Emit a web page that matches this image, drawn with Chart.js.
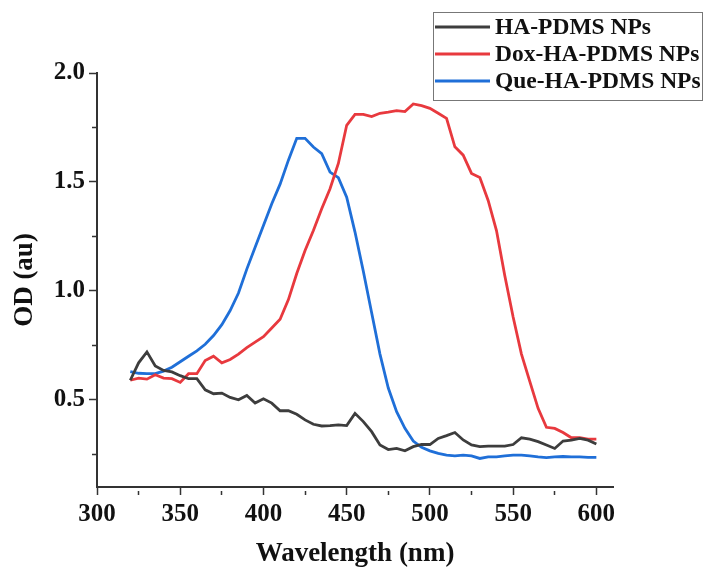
<!DOCTYPE html>
<html>
<head>
<meta charset="utf-8">
<script src="https://cdn.jsdelivr.net/npm/chart.js@4.4.0/dist/chart.umd.min.js"></script>
<style>
  html, body { margin: 0; padding: 0; background: #fff; }
</style>
</head>
<body>
<canvas id="grafico" width="705" height="570"></canvas>
<script>
// comprimentos de onda (nm)
const wavelengths = [
  320, 325, 330, 335, 340, 345, 350, 355, 360, 365, 370, 375, 380, 385, 390,
  395, 400, 405, 410, 415, 420, 425, 430, 435, 440, 445, 450, 455, 460, 465,
  470, 475, 480, 485, 490, 495, 500, 505, 510, 515, 520, 525, 530, 535, 540,
  545, 550, 555, 560, 565, 570, 575, 580, 585, 590, 595, 600
];

const haPdms = [
  0.59, 0.67, 0.72, 0.655, 0.635, 0.628, 0.611, 0.597, 0.597, 0.546, 0.528, 0.531, 0.511, 0.50, 0.52,
  0.485, 0.505, 0.485, 0.45, 0.45, 0.434, 0.408, 0.388, 0.38, 0.382, 0.385, 0.382, 0.438, 0.40, 0.354,
  0.293, 0.272, 0.277, 0.266, 0.285, 0.295, 0.295, 0.323, 0.336, 0.35, 0.316, 0.293, 0.285, 0.288, 0.288,
  0.288, 0.295, 0.326, 0.32, 0.308, 0.293, 0.277, 0.311, 0.315, 0.323, 0.315, 0.297
];

const doxHaPdms = [
  0.59, 0.60, 0.595, 0.615, 0.60, 0.597, 0.58, 0.62, 0.62, 0.68, 0.70, 0.67, 0.685, 0.71, 0.74,
  0.765, 0.79, 0.83, 0.87, 0.96, 1.08, 1.185, 1.277, 1.377, 1.469, 1.585, 1.76, 1.81, 1.81, 1.80,
  1.815, 1.82, 1.827, 1.823, 1.858, 1.85, 1.838, 1.815, 1.792, 1.661, 1.623, 1.539, 1.52, 1.415, 1.277,
  1.07, 0.88, 0.71, 0.585, 0.461, 0.374, 0.369, 0.35, 0.326, 0.326, 0.32, 0.32
];

const queHaPdms = [
  0.63, 0.622, 0.62, 0.62, 0.632, 0.65, 0.675, 0.70, 0.725, 0.755, 0.795, 0.845, 0.91, 0.99, 1.10,
  1.20, 1.30, 1.40, 1.49, 1.60, 1.70, 1.70, 1.66, 1.63, 1.545, 1.52, 1.43, 1.27, 1.09, 0.90,
  0.71, 0.554, 0.446, 0.369, 0.311, 0.282, 0.266, 0.254, 0.246, 0.243, 0.246, 0.243, 0.231, 0.238, 0.238,
  0.243, 0.246, 0.246, 0.243, 0.238, 0.235, 0.238, 0.24, 0.238, 0.238, 0.236, 0.236
];

const labels = ["HA-PDMS NPs", "Dox-HA-PDMS NPs", "Que-HA-PDMS NPs"];
const colors = ["#3d3d3d", "#e8393e", "#1f6fd8"];

function pontos(valores) {
  return wavelengths.map((w, i) => ({ x: w, y: valores[i] }));
}

const fonte = "'Liberation Serif', 'Times New Roman', serif";

// legenda com moldura, desenhada por cima do grafico
const legendBox = {
  id: "legendBox",
  afterDraw(chart) {
    const ctx = chart.ctx;
    ctx.save();
    ctx.strokeStyle = "#777";
    ctx.lineWidth = 1;
    ctx.strokeRect(433.5, 12.5, 269, 88);
    ctx.font = "bold 23.5px " + fonte;
    ctx.textBaseline = "middle";
    ctx.textAlign = "left";
    chart.data.datasets.forEach((ds, i) => {
      const y = 27 + i * 27;
      ctx.strokeStyle = ds.borderColor;
      ctx.lineWidth = 3;
      ctx.beginPath();
      ctx.moveTo(435, y);
      ctx.lineTo(490, y);
      ctx.stroke();
      ctx.fillStyle = "#111";
      ctx.fillText(ds.label, 495, y + 1);
    });
    ctx.restore();
  },
};

// ticks menores mais curtos
function tickDash(ctx, passo) {
  const v = ctx.tick ? ctx.tick.value : 0;
  const r = Math.abs(v / passo - Math.round(v / passo));
  return r < 1e-6 ? [] : [0, 3, 5, 100];
}

new Chart(document.getElementById("grafico"), {
  type: "line",
  data: {
    datasets: [
      { label: labels[0], data: pontos(haPdms), borderColor: colors[0] },
      { label: labels[1], data: pontos(doxHaPdms), borderColor: colors[1] },
      { label: labels[2], data: pontos(queHaPdms), borderColor: colors[2] },
    ],
  },
  options: {
    responsive: false,
    animation: false,
    layout: { padding: { top: 73, right: 92, left: 0, bottom: 0 } },
    elements: {
      point: { radius: 0 },
      line: { borderWidth: 2.8, tension: 0 },
    },
    plugins: {
      legend: { display: false },
      tooltip: { enabled: false },
    },
    scales: {
      x: {
        type: "linear",
        min: 300,
        max: 610,
        afterFit: (scale) => { scale.height = 83; },
        border: { color: "#333", width: 2 },
        grid: {
          drawOnChartArea: false,
          tickLength: 8,
          tickColor: "#333",
          tickWidth: 1.5,
          tickBorderDash: (ctx) => tickDash(ctx, 50),
        },
        ticks: {
          stepSize: 25,
          includeBounds: false,
          autoSkip: false,
          maxRotation: 0,
          padding: 5,
          color: "#111",
          font: { family: fonte, size: 25, weight: "bold" },
          callback: (v) => (v % 50 === 0 ? v : ""),
        },
        title: {
          display: true,
          text: "Wavelength (nm)",
          color: "#111",
          font: { family: fonte, size: 27, weight: "bold" },
          padding: { top: 0, bottom: 0 },
        },
      },
      y: {
        min: 0.1,
        max: 2.0,
        afterFit: (scale) => { scale.width = 97; },
        border: { color: "#333", width: 2 },
        grid: {
          drawOnChartArea: false,
          tickLength: 8,
          tickColor: "#333",
          tickWidth: 1.5,
          tickBorderDash: (ctx) => tickDash(ctx, 0.5),
        },
        ticks: {
          stepSize: 0.25,
          includeBounds: false,
          autoSkip: false,
          padding: 4,
          color: "#111",
          font: { family: fonte, size: 25, weight: "bold" },
          callback: (v) => {
            const r = Math.abs(v / 0.5 - Math.round(v / 0.5));
            return r < 1e-6 ? v.toFixed(1) : "";
          },
        },
        title: {
          display: true,
          text: "OD (au)",
          color: "#111",
          font: { family: fonte, size: 27, weight: "bold" },
          padding: { top: 9, bottom: 0 },
        },
      },
    },
  },
  plugins: [legendBox],
});
</script>
</body>
</html>
